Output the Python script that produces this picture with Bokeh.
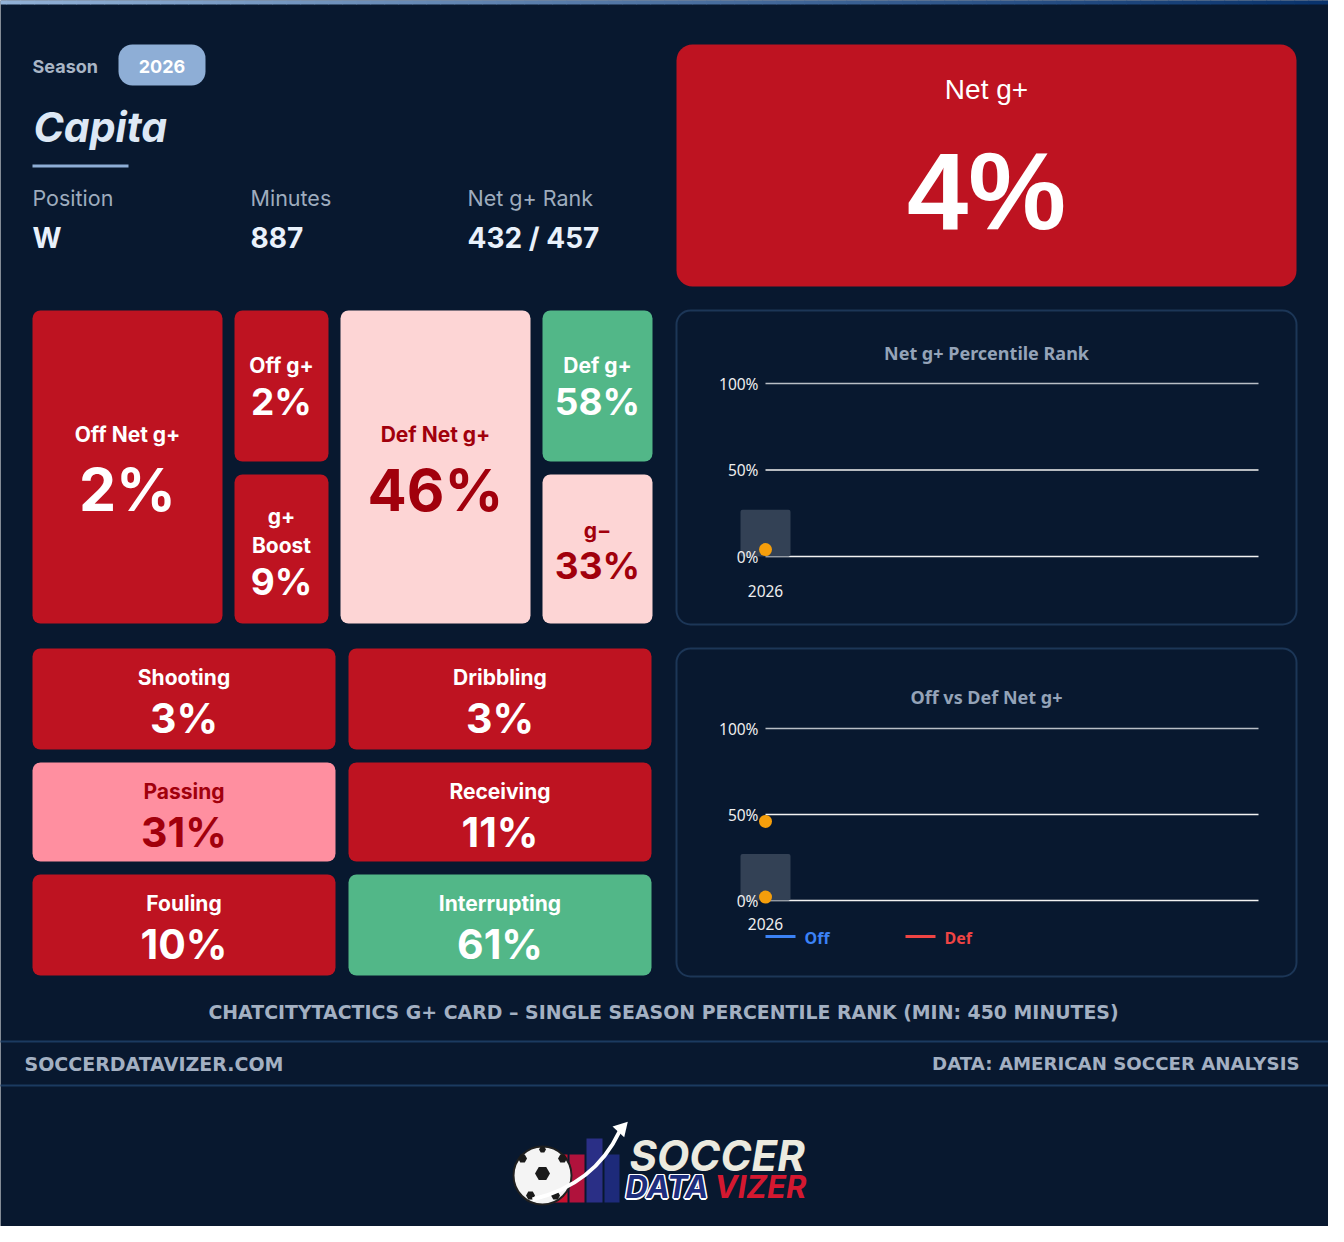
import numpy as np
from bokeh.plotting import figure
from bokeh.models import Range1d, LinearAxis, FixedTicker, CustomJSTickFormatter
from bokeh.core.properties import value
from bokeh.embed import file_html
from bokeh.resources import INLINE

# ---------------- data ----------------
season_label = "2026"
player_name = "Capita"
info_labels = ["Position", "Minutes", "Net g+ Rank"]
info_values = ["W", "887", "432 / 457"]
net_g_label = "Net g+"
net_g_value = 4

main_labels = ["Off Net g+", "Off g+", "g+ Boost", "Def Net g+", "Def g+", "g\u2212"]
main_values = [2, 2, 9, 46, 58, 33]

action_labels = ["Shooting", "Dribbling", "Passing", "Receiving", "Fouling", "Interrupting"]
action_values = [3, 3, 31, 11, 10, 61]

chart_seasons = [2026]
net_rank = [4]
off_net = [2]
def_net = [46]
season_band = [27]
pct_ticks = [0, 50, 100]
legend_labels = ["Off", "Def"]

chart_titles = ["Net g+ Percentile Rank", "Off vs Def Net g+"]
footer_caption = "CHATCITYTACTICS G+ CARD \u2013 SINGLE SEASON PERCENTILE RANK (MIN: 450 MINUTES)"
footer_left = "SOCCERDATAVIZER.COM"
footer_right = "DATA: AMERICAN SOCCER ANALYSIS"

# ---------------- styles ----------------
BG = "#08182f"
RED = "#be1321"
PINK_L = "#fdd5d5"
PINK_M = "#ff8fa0"
GREEN = "#52b788"
DARK_TXT = "#a1000c"
FONT = "Inter"
CFONT = "Noto Sans"
FFONT = "DejaVu Sans"

main_fill = {"Off Net g+": RED, "Off g+": RED, "g+ Boost": RED,
             "Def Net g+": PINK_L, "Def g+": GREEN, "g\u2212": PINK_L}
action_fill = {"Shooting": RED, "Dribbling": RED, "Passing": PINK_M,
               "Receiving": RED, "Fouling": RED, "Interrupting": GREEN}


def txt_color(fill):
    return DARK_TXT if fill in (PINK_L, PINK_M) else "#ffffff"


W, H = 1328, 1226
p = figure(width=W, height=H, x_range=Range1d(8, 1336), y_range=Range1d(1234, 8),
           x_axis_type=None, y_axis_type=None, toolbar_location=None,
           output_backend="svg", min_border=0, outline_line_color=None,
           background_fill_color="#ffffff", border_fill_color="#ffffff")


def txt(x, y, s, size, color, font=FONT, style="normal", align="center", baseline="middle", **kw):
    p.text(x=[x], y=[y], text=[s], text_font=value(font), text_font_size=f"{size}px",
           text_font_style=style, text_color=color, text_align=align,
           text_baseline=baseline, **kw)


def rrect(l, r, t, b, fill, radius=8, line_color=None, line_width=0):
    p.quad(left=[l], right=[r], top=[t], bottom=[b], fill_color=fill,
           line_color=line_color, line_width=line_width, border_radius=radius)


# card
rrect(0, 1344, 0, 1242, BG, 22)
# top gradient strip
n = 96
xs = np.linspace(0, 1344, n + 1)
c0 = np.array([146, 178, 216])
c1 = np.array([8, 50, 108])
cols = ["#%02x%02x%02x" % tuple((c0 + (c1 - c0) * t).astype(int)) for t in np.linspace(0, 1, n)]
p.quad(left=xs[:-1], right=xs[1:] + 0.6, top=0, bottom=12, fill_color=cols, line_color=None)

# ---------------- header ----------------
txt(40, 74, "Season", 18, "#a9b5c5", style="bold", align="left")
rrect(126, 213, 52, 93, "#8eaed6", 14)
txt(169.5, 74, season_label, 18, "#ffffff", style="bold")
txt(41, 134, player_name, 41, "#dde8f5", style="bold italic", align="left")
rrect(40, 136, 172, 175, "#8eaed6", 0)
for lab, val, x in zip(info_labels, info_values, [40, 258, 475]):
    txt(x, 205, lab, 21.5, "#9eacbe", align="left")
    txt(x, 245, val, 28, "#e9f1fb", style="bold", align="left")

# Net g+ big tile
rrect(684, 1304, 52, 294, RED, 16)
txt(994, 97, net_g_label, 28, "#ffffff", font="Liberation Sans")
txt(994, 198, f"{net_g_value}%", 110, "#ffffff", font="Liberation Sans", style="bold")

# ---------------- main tiles ----------------
main_geom = [(40, 230, 318, 631), (242, 336, 318, 469), (242, 336, 482, 631),
             (348, 538, 318, 631), (550, 660, 318, 469), (550, 660, 482, 631)]
label_ys = [[442], [373], [524, 553], [442], [373], [538]]
value_ys = [497, 409, 589, 497, 409, 573]
value_sz = [59, 37, 37, 58, 37, 37]
for lab, v, (l, r, t, b), lys, vy, vs in zip(main_labels, main_values, main_geom, label_ys, value_ys, value_sz):
    fill = main_fill[lab]
    tc = txt_color(fill)
    rrect(l, r, t, b, fill, 8)
    lines = lab.split(" ") if len(lys) > 1 else [lab]
    cx = (l + r) / 2
    for line, ly in zip(lines, lys):
        txt(cx, ly, line, 21, tc, style="bold")
    txt(cx, vy, f"{v}%", vs, tc, style="bold")

# ---------------- action tiles ----------------
cols_x = [(40, 343), (356, 659)]
rows_y = [(656, 757), (770, 869), (882, 983)]
for i, (lab, v) in enumerate(zip(action_labels, action_values)):
    l, r = cols_x[i % 2]
    t, b = rows_y[i // 2]
    fill = action_fill[lab]
    tc = txt_color(fill)
    rrect(l, r, t, b, fill, 8)
    cx = (l + r) / 2
    txt(cx, t + 29, lab, 21, tc, style="bold")
    txt(cx, t + 69, f"{v}%", 41, tc, style="bold")

# ---------------- charts ----------------
X0_PX, X_UNIT = 773, 493.0
p.extra_x_ranges = {"season": Range1d(chart_seasons[0] + (8 - X0_PX) / X_UNIT,
                                      chart_seasons[0] + (1336 - X0_PX) / X_UNIT)}
charts = [("c1", 318, 632, 564, 1.73, 360, 28), ("c2", 656, 984, 908, 1.72, 704, 17)]
p.extra_y_ranges = {}
for name, bt, bb, zero_px, unit, _, _ in charts:
    p.extra_y_ranges[name] = Range1d((zero_px - 1234) / unit, (zero_px - 8) / unit)

grid_cols = ["#f2f2f2", "#f2f2f2", "#b9bec6"]
for (name, bt, bb, zero_px, unit, ty, xstand), title in zip(charts, chart_titles):
    rrect(684, 1304, bt, bb, BG, 14, line_color="#1c3657", line_width=2)
    txt(994, ty, title, 18, "#94a3b8", font=CFONT, style="bold")
    kw = dict(x_range_name="season", y_range_name=name)
    p.segment(x0=[chart_seasons[0]] * len(pct_ticks), x1=[chart_seasons[0] + 1] * len(pct_ticks),
              y0=pct_ticks, y1=pct_ticks, line_color=grid_cols, line_width=1.6, **kw)
    p.vbar(x=chart_seasons, top=season_band, bottom=0, width=50 / X_UNIT,
           fill_color="#334155", line_color=None, border_radius=2, **kw)
    axis_style = dict(axis_line_color=None, major_tick_line_color=None, minor_tick_line_color=None,
                      major_tick_in=0, major_tick_out=0, minor_tick_in=0, minor_tick_out=0,
                      major_label_text_color="#eeeeee", major_label_text_font=CFONT,
                      major_label_text_font_size="15.5px")
    yax = LinearAxis(fixed_location=chart_seasons[0], ticker=FixedTicker(ticks=pct_ticks),
                     formatter=CustomJSTickFormatter(code="return tick + '%'"),
                     major_label_standoff=7, **axis_style, **kw)
    p.add_layout(yax, "left")
    xax = LinearAxis(fixed_location=0, ticker=FixedTicker(ticks=chart_seasons),
                     major_label_standoff=xstand, **axis_style, **kw)
    p.add_layout(xax, "below")

k1 = dict(x_range_name="season", y_range_name="c1")
p.scatter(x=chart_seasons, y=net_rank, size=13, fill_color="#f59e0b", line_color=None, **k1)

k2 = dict(x_range_name="season", y_range_name="c2")
leg_colors = ["#3b82f6", "#ef4444"]
for series, c in zip([off_net, def_net], leg_colors):
    p.line(x=chart_seasons, y=series, line_color=c, line_width=3, **k2)
    p.scatter(x=chart_seasons, y=series, size=13, fill_color="#f59e0b", line_color=None, **k2)
for lab, c, lx in zip(legend_labels, leg_colors, [773, 913]):
    p.segment(x0=[lx], x1=[lx + 30], y0=[944], y1=[944], line_color=c, line_width=3)
    txt(lx + 39, 945, lab, 16, c, font=CFONT, style="bold", align="left")

# ---------------- footer ----------------
txt(671, 1019, footer_caption, 18.9, "#a3b0c2", font=FFONT, style="bold")
p.segment(x0=[0, 0], x1=[1344, 1344], y0=[1049, 1093], y1=[1049, 1093], line_color="#1b3a60", line_width=2)
txt(32, 1071, footer_left, 19, "#a3b0c2", font=FFONT, style="bold", align="left")
txt(1307, 1071, footer_right, 18.2, "#a3b0c2", font=FFONT, style="bold", align="right")

# ---------------- logo ----------------
p.quad(left=[560, 577, 594, 612], right=[575, 592, 610, 627], top=[1162, 1162, 1146, 1162],
       bottom=[1210] * 4, fill_color=["#c8102e", "#b0123c", "#2a2f86", "#1d2a7a"], line_color=None)
p.circle(x=[550], y=[1183], radius=29, fill_color="#f4f4f4", line_color="#202020", line_width=2)
p.scatter(x=[550, 530, 570, 538, 563, 550], y=[1181, 1166, 1166, 1203, 1203, 1157],
          marker="hex", size=[15, 9, 9, 9, 9, 7], fill_color="#1a1a1a", line_color=None)
p.quadratic(x0=[540], y0=[1207], x1=[627], y1=[1139], cx=[602], cy=[1192], line_color="#ffffff", line_width=4)
p.scatter(x=[629], y=[1136], marker="triangle", size=16, angle=-0.75, fill_color="#ffffff", line_color=None)
txt(637, 1163, "SOCCER", 42, "#eceadf", style="bold italic", align="left")
for dx, dy in [(-1.5, 0), (1.5, 0), (0, -1.5), (0, 1.5), (-1, -1), (1, 1), (-1, 1), (1, -1)]:
    txt(633 + dx, 1194 + dy, "DATA", 31, "#ffffff", style="bold italic", align="left")
txt(633, 1194, "DATA", 31, "#1e2d7d", style="bold italic", align="left")
txt(722, 1194, "VIZER", 31, "#d41830", style="bold italic", align="left")

open("out.html", "w").write(file_html(p, INLINE))
